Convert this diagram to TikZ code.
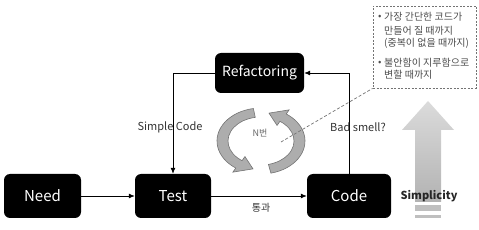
\documentclass[tikz,border=0pt]{standalone}
\usepackage{fontspec}
\setmainfont{Noto Sans CJK KR}
\usetikzlibrary{arrows.meta,calc}
\definecolor{txtgray}{HTML}{333333}
\tikzset{
  blk/.style={fill=black, text=white, rounded corners=6pt, minimum height=44pt, inner sep=0pt, font=\fontsize{15}{18}\selectfont},
  conn/.style={draw=black, line width=0.8pt, -{Latex[length=6pt,width=5pt]}},
  lbl/.style={text=txtgray, font=\fontsize{11}{13}\selectfont, inner sep=1pt},
  boxtxt/.style={text=black!70, font=\fontsize{10}{12}\selectfont, anchor=west, inner sep=0pt},
  cyc/.style={fill=black!32, draw=black!55, line width=0.6pt},
}
\begin{document}
\begin{tikzpicture}[x=1pt,y=1pt]
\useasboundingbox (0,0) rectangle (479,230);
% big simplicity arrow
\shade[top color=black!14, bottom color=black!30]
  (415,28) -- (415,100) -- (402,100) -- (428,129) -- (454,100) -- (441,100) -- (441,28) -- cycle;
\fill[black!25] (415,19) rectangle (441,25);
\fill[black!25] (415,12) rectangle (441,15);
\node[font=\bfseries\fontsize{11}{13}\selectfont, text=black!85, inner sep=0pt] (simp) at (429,34) {Simplicity};
% boxes
\node[blk, minimum width=77pt] (need) at (42.5,34) {Need};
\node[blk, minimum width=76pt] (test) at (173,34) {Test};
\node[blk, minimum width=84pt] (code) at (349,34) {Code};
\node[blk, minimum width=89pt, minimum height=40pt, font=\fontsize{14}{17}\selectfont] (ref) at (259.5,157) {Refactoring};
% connectors
\draw[conn] (need) -- (test);
\draw[conn] (test) -- (code);
\draw[conn] (code.north) |- (ref.east);
\draw[conn] (ref.west) -| (test.north);
% labels
\node[lbl] (lsc) at (170,103) {Simple Code};
\node[lbl] (lbs) at (358,103) {Bad smell?};
\node[lbl, font=\fontsize{10}{12}\selectfont] (ltg) at (261,22) {통과};
% cycle arrows
\begin{scope}[shift={(261,89)}]
\path[cyc] (100:44 and 33) arc[start angle=100, end angle=235, x radius=44, y radius=33]
  -- (235:49 and 38) -- (258:38.5 and 28.5) -- (235:28 and 19) -- (235:33 and 24)
  arc[start angle=235, end angle=100, x radius=33, y radius=24] -- cycle;
\path[cyc] (-77:44 and 33) arc[start angle=-77, end angle=55, x radius=44, y radius=33]
  -- (55:49 and 38) -- (78:38.5 and 28.5) -- (55:28 and 19) -- (55:33 and 24)
  arc[start angle=55, end angle=-77, x radius=33, y radius=24] -- cycle;
\end{scope}
\node[lbl, font=\fontsize{9}{11}\selectfont, text=black!60] (nb) at (260,97) {N번};
% dashed note box
\node[draw=black!55, dashed, dash pattern=on 2pt off 1.5pt, line width=0.8pt, minimum width=103pt, minimum height=82pt, inner sep=0pt] (note) at (424.5,183) {};
\coordinate (nstart) at (281,88);
\draw[black!55, dashed, dash pattern=on 3pt off 2pt, line width=0.7pt] (nstart) -- (note.south west);
\node[boxtxt] (b1) at (378,213) {•};
\node[boxtxt] (t1) at (384,213) {가장 간단한 코드가};
\node[boxtxt] (t2) at (384,199) {만들어 질 때까지};
\node[boxtxt] (t3) at (384,187) {(중복이 없을 때까지)};
\node[boxtxt] (b2) at (378,167) {•};
\node[boxtxt] (t4) at (384,167) {불안함이 지루함으로};
\node[boxtxt] (t5) at (384,155) {변할 때까지};
\end{tikzpicture}
\end{document}
